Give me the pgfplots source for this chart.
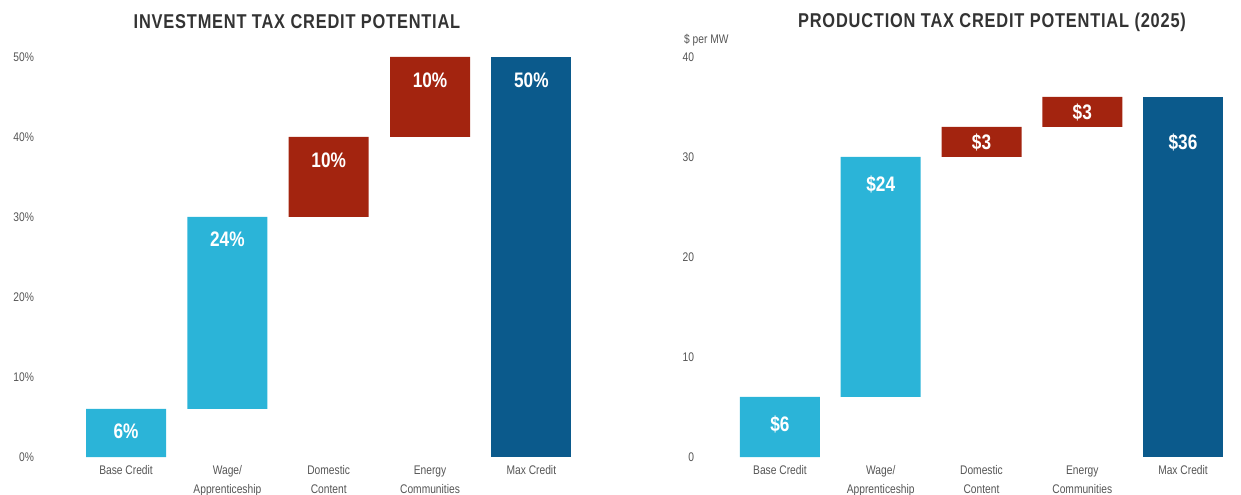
\documentclass[border=0pt]{standalone}
\usepackage{pgfplots}
\pgfplotsset{compat=1.18}
\usepackage{pgfplotstable}
\usepackage{fontspec}
\setmainfont{Liberation Sans}
\newfontfamily\condfont[FakeStretch=0.82]{Liberation Sans}
\definecolor{lblue}{HTML}{2BB4D8}
\definecolor{dblue}{HTML}{0B5A8C}
\definecolor{cred}{HTML}{A3240F}
\definecolor{txt}{HTML}{555555}
\definecolor{ttl}{HTML}{333333}

% x base lightblue red darkblue
\pgfplotstableread{
x base lb rd db
0 0  6  0  0
1 6  24 0  0
2 30 0  10 0
3 40 0  10 0
4 0  0  0  50
}\itcdata
\pgfplotstableread{
x base lb rd db
0 0  6  0  0
1 6  24 0  0
2 30 0  3  0
3 33 0  3  0
4 0  0  0  36
}\ptcdata

\pgfkeys{/pgf/number format/assume math mode=true}
\pgfplotsset{
  wf/.style={
    scale only axis, height=400bp,
    xmin=-0.5, xmax=4.5, ymin=0,
    enlargelimits=false,
    ybar stacked, bar width=80bp,
    axis line style={draw=none},
    tick style={draw=none},
    xtick={0,1,2,3,4},
    xticklabel style={font=\condfont\fontsize{12.5bp}{19bp}\selectfont, text=txt, align=center, yshift=-5bp},
    yticklabel style={font=\condfont\fontsize{12.5bp}{15bp}\selectfont, text=txt},
    /pgf/number format/assume math mode=true,
    clip=false,
  },
  % #1 = label text, #2 = bp per unit / 2, #3 = gap below top
  lbl/.style n args={3}{
    nodes near coords={\pgfmathfloatifflags{\pgfplotspointmeta}{0}{}{#1}},
    point meta=explicit,
    visualization depends on={rawy \as \segh},
    every node near coord/.append style={font=\condfont\bfseries\fontsize{21bp}{21bp}\selectfont, text=white, anchor=north,
      /pgf/number format/assume math mode=true,
      yshift=\segh*#2-#3},
  },
}

\begin{document}
\begin{tikzpicture}
\useasboundingbox (0,0) rectangle (1241bp,495bp);

% Left chart
\begin{axis}[wf, at={(75.4bp,38bp)}, anchor=south west, width=506.6bp,
  ymax=50, ytick={0,10,20,30,40,50},
  yticklabels={0\%,10\%,20\%,30\%,40\%,50\%},
  yticklabel style={xshift=-38bp},
  xticklabels={Base Credit,{Wage/\\Apprenticeship},{Domestic\\Content},{Energy\\Communities},Max Credit},
]
\addplot[draw=none, fill=none] table[x=x, y=base]{\itcdata};
\addplot[draw=none, fill=lblue, lbl={\pgfmathprintnumber{\pgfplotspointmeta}\%}{4bp}{11bp}]
  table[x=x, y=lb, meta=lb]{\itcdata};
\addplot[draw=none, fill=cred, lbl={\pgfmathprintnumber{\pgfplotspointmeta}\%}{4bp}{12bp}]
  table[x=x, y=rd, meta=rd]{\itcdata};
\addplot[draw=none, fill=dblue, lbl={\pgfmathprintnumber{\pgfplotspointmeta}\%}{4bp}{12bp}]
  table[x=x, y=db, meta=db]{\itcdata};
\end{axis}

% Right chart
\begin{axis}[wf, at={(729.6bp,38bp)}, anchor=south west, width=503.8bp,
  ymax=40, ytick={0,10,20,30,40},
  yticklabel style={xshift=-32bp},
  xticklabels={Base Credit,{Wage/\\Apprenticeship},{Domestic\\Content},{Energy\\Communities},Max Credit},
]
\addplot[draw=none, fill=none] table[x=x, y=base]{\ptcdata};
\addplot[draw=none, fill=lblue, lbl={\$\pgfmathprintnumber{\pgfplotspointmeta}}{5bp}{15bp}]
  table[x=x, y=lb, meta=lb]{\ptcdata};
\addplot[draw=none, fill=cred, lbl={\$\pgfmathprintnumber{\pgfplotspointmeta}}{5bp}{3bp}]
  table[x=x, y=rd, meta=rd]{\ptcdata};
\addplot[draw=none, fill=dblue, lbl={\$\pgfmathprintnumber{\pgfplotspointmeta}}{5bp}{33bp}]
  table[x=x, y=db, meta=db]{\ptcdata};
\end{axis}

% Titles
\node[font=\condfont\bfseries\fontsize{20bp}{20bp}\selectfont, text=ttl, anchor=center] at (297bp,473bp) {\addfontfeatures{LetterSpace=4}INVESTMENT TAX CREDIT POTENTIAL};
\node[font=\condfont\bfseries\fontsize{20bp}{20bp}\selectfont, text=ttl, anchor=center] at (992bp,473bp) {\addfontfeatures{LetterSpace=4}PRODUCTION TAX CREDIT POTENTIAL (2025)};
\node[font=\condfont\fontsize{12.5bp}{15bp}\selectfont, text=txt, anchor=west, inner sep=0pt] at (684bp,455bp) {\$ per MW};
\end{tikzpicture}
\end{document}
